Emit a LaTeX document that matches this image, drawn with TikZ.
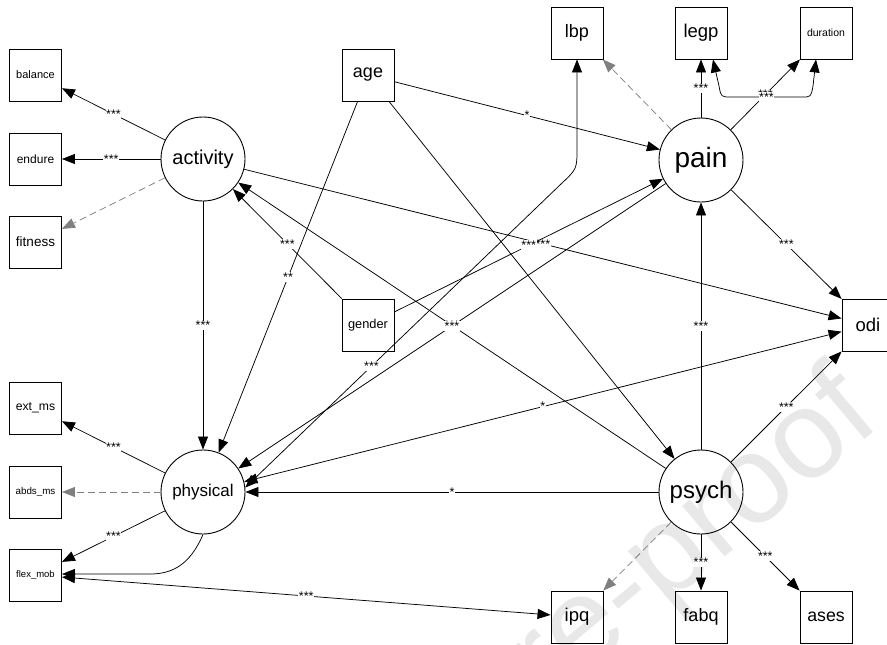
\documentclass[tikz,border=0pt]{standalone}
\usepackage{fontspec}
\setmainfont{Liberation Sans}
\usetikzlibrary{arrows.meta,calc}
\newcommand{\fsz}[1]{\fontsize{#1}{#1}\selectfont}
\begin{document}
\begin{tikzpicture}[x=1pt,y=-1pt,
  box/.style={draw, line width=0.9pt, minimum width=52pt, minimum height=52pt, inner sep=0pt},
  lat/.style={draw, circle, line width=0.9pt, minimum size=84pt, inner sep=0pt},
  reg/.style={line width=0.75pt, -{Triangle[length=13pt,width=10pt]}},
  cov/.style={line width=0.75pt, {Triangle[length=13pt,width=10pt]}-{Triangle[length=13pt,width=10pt]}},
  fix/.style={line width=0.75pt, gray, dash pattern=on 7pt off 4pt, -{Triangle[length=13pt,width=10pt]}},
  lbl/.style={fill=white, inner sep=0.6pt, font=\fsz{12.5}},
  wm/.style={text=black!9, font=\fsz{125}, rotate=40, anchor=base east}
]
\useasboundingbox (0,0) rectangle (887,645);
% watermark
\node[wm] (wmark) at (886,422) {Journal Pre-proof};
% nodes
\node[box,font=\fsz{11}] (balance) at (35.5,75) {balance};
\node[box,font=\fsz{12}] (endure) at (35.5,159) {endure};
\node[box,font=\fsz{13.5}] (fitness) at (35.5,242) {fitness};
\node[box,font=\fsz{12.2}] (extms) at (35.5,408) {ext\_ms};
\node[box,font=\fsz{9.8}] (abdsms) at (35.5,492) {abds\_ms};
\node[box,font=\fsz{9.5}] (flexmob) at (35.5,575) {flex\_mob};
\node[lat,font=\fsz{20}] (activity) at (203,159) {activity};
\node[lat,font=\fsz{17}] (physical) at (203,492) {physical};
\node[box,font=\fsz{18}] (age) at (368,75) {age};
\node[box,font=\fsz{12.8}] (gender) at (368,325) {gender};
\node[box,font=\fsz{18}] (lbp) at (577,33) {lbp};
\node[box,font=\fsz{18.5}] (legp) at (701,33) {legp};
\node[box,font=\fsz{10.5}] (duration) at (826,33) {duration};
\node[lat,font=\fsz{28}] (pain) at (701,160) {pain};
\node[box,font=\fsz{18.5}] (odi) at (868,325) {odi};
\node[lat,font=\fsz{24}] (psych) at (701,492) {psych};
\node[box,font=\fsz{18.5}] (ipq) at (577,617) {ipq};
\node[box,font=\fsz{18}] (fabq) at (701,617) {fabq};
\node[box,font=\fsz{17.7}] (ases) at (826,617) {ases};
% edges
\draw[reg] (activity) -- node[lbl]{***} (balance);
\draw[reg] (activity) -- node[lbl]{***} (endure);
\draw[fix] (activity) -- (fitness);
\draw[reg] (activity) -- node[lbl]{***} (physical);
\draw[reg] (activity) -- node[lbl]{***} (odi);
\draw[reg] (gender) -- node[lbl]{***} (activity);
\draw[reg] (psych) -- node[lbl]{***} (activity);
\draw[reg] (age) -- node[lbl]{**} (physical);
\draw[reg] (age) -- node[lbl]{*} (pain);
\draw[reg] (age) -- (psych);
\draw[reg] (gender) -- node[lbl]{***} (pain);
\draw[reg] (pain) -- node[lbl]{***} (physical);
\draw[reg] (pain) -- node[lbl]{***} (legp);
\draw[fix] (pain) -- (lbp);
\draw[reg] (pain) -- node[lbl]{***} (duration);
\draw[reg] (pain) -- node[lbl]{***} (odi);
\draw[reg] (psych) -- node[lbl]{***} (pain);
\draw[reg] (psych) -- node[lbl]{***} (odi);
\draw[reg] (psych) -- node[lbl]{*} (physical);
\draw[fix] (psych) -- (ipq);
\draw[reg] (psych) -- node[lbl]{***} (fabq);
\draw[reg] (psych) -- node[lbl]{***} (ases);
\draw[reg] (physical) -- node[lbl]{***} (extms);
\draw[fix] (physical) -- (abdsms);
\draw[reg] (physical) -- node[lbl]{***} (flexmob);
\draw[cov] (physical) -- node[lbl]{*} (odi);
\draw[cov] (flexmob) -- node[lbl]{***} (ipq);
\draw[cov] (lbp.south) -- (577,148) .. controls (577,169) .. (561,184) -- node[lbl,pos=0.6]{***} (physical.6);
\draw[cov] ([xshift=12pt]legp.south) -- (719,86) .. controls (721,97) .. (731,97) -- node[lbl]{***} (802,97) .. controls (811,97) .. (813,86) -- ([xshift=-10pt]duration.south);
\draw[reg] (physical.south) .. controls (190,565) and (172,574) .. (150,574) -- ([yshift=1pt]flexmob.east);
\end{tikzpicture}
\end{document}
